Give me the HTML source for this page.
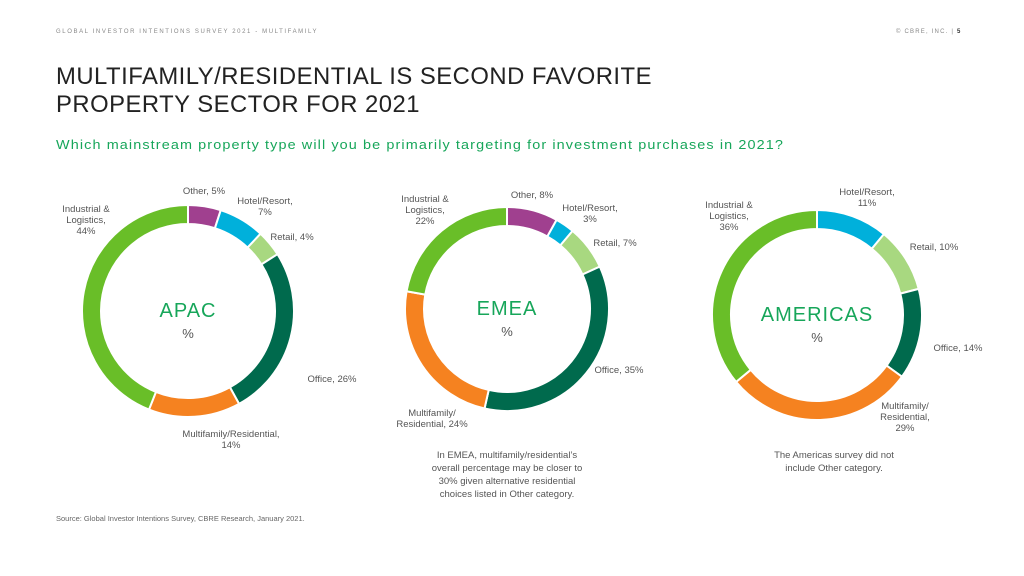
<!DOCTYPE html>
<html><head><meta charset="utf-8">
<style>
body{margin:0;width:1024px;height:576px;background:#fff;overflow:hidden;font-family:"Liberation Sans",sans-serif;}
svg{position:absolute;left:0;top:0}
.lab{font-size:9.5px;fill:#555}
</style></head><body>
<svg id="s" width="1024" height="576">
<text x="56" y="33" font-size="6" letter-spacing="1.6" fill="#888">GLOBAL INVESTOR INTENTIONS SURVEY 2021 - MULTIFAMILY</text>
<text x="896" y="33" font-size="6" letter-spacing="1.2" fill="#888">© CBRE, INC. | <tspan font-weight="bold" fill="#333">5</tspan></text>
<text x="56" y="84" font-size="24" fill="#222" letter-spacing="0.5" textLength="596" lengthAdjust="spacingAndGlyphs">MULTIFAMILY/RESIDENTIAL IS SECOND FAVORITE</text>
<text x="56" y="112" font-size="24" fill="#222" letter-spacing="0.5" textLength="364" lengthAdjust="spacingAndGlyphs">PROPERTY SECTOR FOR 2021</text>
<text x="56" y="149" font-size="13" fill="#17a65a" letter-spacing="1" textLength="728" lengthAdjust="spacingAndGlyphs">Which mainstream property type will you be primarily targeting for investment purchases in 2021?</text>
<text x="56" y="521" font-size="7.5" fill="#666">Source: Global Investor Intentions Survey, CBRE Research, January 2021.</text>
<g id="charts"></g>
<g font-size="9.5" fill="#555" text-anchor="middle">
<text x="507" y="458"><tspan x="507">In EMEA, multifamily/residential’s</tspan><tspan x="507" dy="13">overall percentage may be closer to</tspan><tspan x="507" dy="13">30% given alternative residential</tspan><tspan x="507" dy="13">choices listed in Other category.</tspan></text>
<text x="834" y="458"><tspan x="834">The Americas survey did not</tspan><tspan x="834" dy="13">include Other category.</tspan></text>
</g>
</svg>
<script>
const categories=["Other","Hotel/Resort","Retail","Office","Multifamily/Residential","Industrial & Logistics"];
const colors=["#a0408f","#00b0db","#a8d880","#006a4d","#f58220","#69be28"];
const apacValues=[5,7,4,26,14,44];
const emeaValues=[8,3,7,35,24,22];
const americasValues=[0,11,10,14,29,36];
const regions=["APAC","EMEA","AMERICAS"];
const layout=[{cx:188,cy:311,r:106,fs:20},{cx:507,cy:309,r:102,fs:20},{cx:817,cy:315,r:105,fs:20}];
const labels=[
 [[204,194,["Other, 5%"]],[265,204,["Hotel/Resort,","7%"]],[292,240,["Retail, 4%"]],[332,382,["Office, 26%"]],[231,437,["Multifamily/Residential,","14%"]],[86,212,["Industrial &","Logistics,","44%"]]],
 [[532,198,["Other, 8%"]],[590,211,["Hotel/Resort,","3%"]],[615,246,["Retail, 7%"]],[619,373,["Office, 35%"]],[432,416,["Multifamily/","Residential, 24%"]],[425,202,["Industrial &","Logistics,","22%"]]],
 [null,[867,195,["Hotel/Resort,","11%"]],[934,250,["Retail, 10%"]],[958,351,["Office, 14%"]],[905,409,["Multifamily/","Residential,","29%"]],[729,208,["Industrial &","Logistics,","36%"]]]
];
const allValues=[apacValues,emeaValues,americasValues];
const NS="http://www.w3.org/2000/svg";
const g=document.getElementById("charts");
function pt(cx,cy,r,a){return [cx+r*Math.sin(a),cy-r*Math.cos(a)];}
allValues.forEach((vals,ri)=>{
 const {cx,cy,r,fs}=layout[ri];const ri2=r-19;
 const tot=vals.reduce((a,b)=>a+b,0);let acc=0;
 vals.forEach((v,i)=>{
  if(v<=0)return;
  const a0=acc/tot*2*Math.PI,a1=(acc+v)/tot*2*Math.PI;acc+=v;
  const big=(a1-a0)>Math.PI?1:0;
  const p0=pt(cx,cy,r,a0),p1=pt(cx,cy,r,a1),q1=pt(cx,cy,ri2,a1),q0=pt(cx,cy,ri2,a0);
  const p=document.createElementNS(NS,"path");
  p.setAttribute("d",`M${p0}A${r},${r} 0 ${big} 1 ${p1}L${q1}A${ri2},${ri2} 0 ${big} 0 ${q0}Z`);
  p.setAttribute("fill",colors[i]);p.setAttribute("stroke","#fff");p.setAttribute("stroke-width","2");
  
  
  g.appendChild(p);
  const L=labels[ri][i];
  if(L){const t=document.createElementNS(NS,"text");
   t.setAttribute("class","lab");t.setAttribute("text-anchor","middle");
   
   
   L[2].forEach((line,k)=>{const s=document.createElementNS(NS,"tspan");s.setAttribute("x",L[0]);s.setAttribute("y",L[1]+k*11);
    s.textContent=k===L[2].length-1&&L[2].length>1&&/^\d/.test(line)?v+"%":line.replace(/\d+%/,v+"%");t.appendChild(s);});
   g.appendChild(t);}
 });
 const t=document.createElementNS(NS,"text");t.setAttribute("x",cx);t.setAttribute("y",cy+6);
 t.setAttribute("text-anchor","middle");t.setAttribute("font-size",fs);t.setAttribute("fill","#17a65a");t.setAttribute("letter-spacing","1");
 
 
 t.textContent=regions[ri];g.appendChild(t);
 const u=document.createElementNS(NS,"text");u.setAttribute("x",cx);u.setAttribute("y",cy+27);
 u.setAttribute("text-anchor","middle");u.setAttribute("font-size","13");u.setAttribute("fill","#555");
 
 
 u.textContent="%";g.appendChild(u);
});
</script>
</body></html>
